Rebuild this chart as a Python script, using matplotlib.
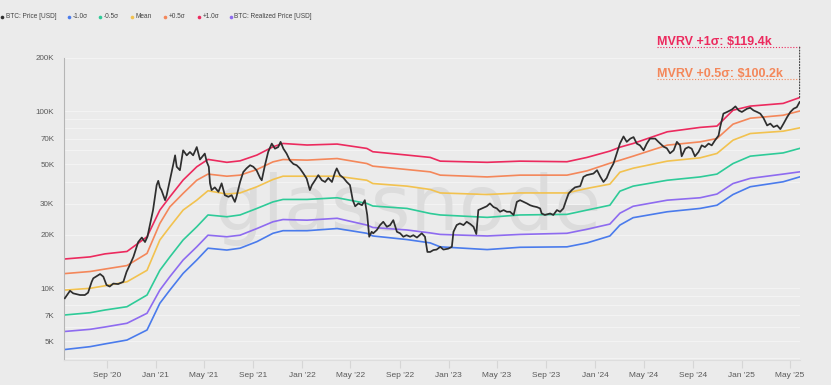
import matplotlib
matplotlib.use("Agg")
import matplotlib.pyplot as plt
import pandas as pd
from matplotlib.ticker import FixedLocator, LogLocator, NullFormatter
import matplotlib.dates as mdates

plt.rcParams['font.family'] = ['Liberation Sans', 'DejaVu Sans']

# ---------------- data ----------------
price_dates = [
    '2020-05-19', '2020-06-01', '2020-06-09', '2020-06-26', '2020-07-08', '2020-07-16', '2020-07-25', '2020-07-29',
    '2020-08-15', '2020-08-23', '2020-08-31', '2020-09-08', '2020-09-17', '2020-09-29', '2020-10-12', '2020-10-20',
    '2020-10-28', '2020-11-06', '2020-11-18', '2020-11-27', '2020-12-05', '2020-12-11', '2020-12-17', '2020-12-25',
    '2021-01-03', '2021-01-07', '2021-01-11', '2021-01-15', '2021-01-24', '2021-01-28', '2021-02-05', '2021-02-13',
    '2021-02-18', '2021-02-22', '2021-03-02', '2021-03-10', '2021-03-19', '2021-03-27', '2021-04-04', '2021-04-13',
    '2021-04-21', '2021-05-03', '2021-05-08', '2021-05-13', '2021-05-16', '2021-05-20', '2021-05-28', '2021-06-06',
    '2021-06-14', '2021-06-22', '2021-07-01', '2021-07-09', '2021-07-17', '2021-07-21', '2021-07-30', '2021-08-07',
    '2021-08-15', '2021-08-24', '2021-09-01', '2021-09-09', '2021-09-18', '2021-09-22', '2021-09-30', '2021-10-08',
    '2021-10-17', '2021-10-25', '2021-11-02', '2021-11-08', '2021-11-15', '2021-11-23', '2021-12-01', '2021-12-10',
    '2021-12-18', '2021-12-26', '2022-01-04', '2022-01-12', '2022-01-20', '2022-01-25', '2022-02-02', '2022-02-10',
    '2022-02-19', '2022-02-27', '2022-03-07', '2022-03-16', '2022-03-24', '2022-03-28', '2022-04-05', '2022-04-14',
    '2022-04-22', '2022-04-30', '2022-05-07', '2022-05-13', '2022-05-21', '2022-05-30', '2022-06-06', '2022-06-12',
    '2022-06-17', '2022-06-23', '2022-06-27', '2022-07-06', '2022-07-14', '2022-07-22', '2022-07-31', '2022-08-08',
    '2022-08-16', '2022-08-25', '2022-09-02', '2022-09-10', '2022-09-18', '2022-09-27', '2022-10-05', '2022-10-14',
    '2022-10-26', '2022-11-03', '2022-11-09', '2022-11-16', '2022-11-24', '2022-12-02', '2022-12-11', '2022-12-19',
    '2022-12-31', '2023-01-09', '2023-01-13', '2023-01-21', '2023-01-29', '2023-02-07', '2023-02-15', '2023-02-24',
    '2023-03-04', '2023-03-11', '2023-03-16', '2023-03-25', '2023-04-06', '2023-04-14', '2023-04-23', '2023-05-01',
    '2023-05-09', '2023-05-18', '2023-05-26', '2023-06-03', '2023-06-12', '2023-06-20', '2023-06-28', '2023-07-07',
    '2023-07-15', '2023-07-23', '2023-07-31', '2023-08-09', '2023-08-17', '2023-08-21', '2023-08-29', '2023-09-11',
    '2023-09-19', '2023-09-28', '2023-10-06', '2023-10-14', '2023-10-21', '2023-10-27', '2023-11-04', '2023-11-12',
    '2023-11-25', '2023-12-03', '2023-12-11', '2023-12-20', '2023-12-28', '2024-01-06', '2024-01-14', '2024-01-22',
    '2024-01-30', '2024-02-07', '2024-02-16', '2024-02-24', '2024-03-03', '2024-03-12', '2024-03-20', '2024-03-29',
    '2024-04-06', '2024-04-14', '2024-04-22', '2024-05-01', '2024-05-09', '2024-05-17', '2024-05-30', '2024-06-07',
    '2024-06-20', '2024-06-28', '2024-07-06', '2024-07-15', '2024-07-23', '2024-07-31', '2024-08-04', '2024-08-13',
    '2024-08-21', '2024-08-29', '2024-09-06', '2024-09-15', '2024-09-23', '2024-10-01', '2024-10-10', '2024-10-18',
    '2024-10-26', '2024-11-04', '2024-11-08', '2024-11-16', '2024-11-25', '2024-12-07', '2024-12-16', '2024-12-24',
    '2025-01-01', '2025-01-14', '2025-01-22', '2025-01-30', '2025-02-08', '2025-02-16', '2025-02-24', '2025-03-05',
    '2025-03-13', '2025-03-21', '2025-03-30', '2025-04-07', '2025-04-15', '2025-04-24', '2025-05-02', '2025-05-10',
    '2025-05-18', '2025-05-25',
]
btc_price = [
    8750, 9650, 9330, 9130, 9130, 9410, 10850, 11350,
    12000, 11600, 10400, 10200, 10600, 10530, 10850, 12350,
    13500, 15000, 18200, 19300, 18200, 19500, 22700, 27600,
    38200, 40400, 37100, 35800, 31400, 33500, 40700, 49500,
    56300, 48500, 46400, 60100, 56300, 58800, 56300, 62700,
    53300, 57600, 51700, 48500, 39100, 35800, 37100, 35000,
    39100, 33500, 32800, 33500, 30700, 32800, 39800, 45300,
    47500, 49500, 48500, 46400, 41900, 40700, 49500, 58800,
    65600, 61400, 62700, 67100, 61400, 57600, 52800, 50300,
    49500, 47500, 44400, 41600, 35800, 38200, 40700, 43500,
    40700, 39800, 41900, 39800, 45300, 47500, 43500, 41900,
    39800, 38200, 31400, 29000, 30100, 29400, 31400, 25900,
    19500, 20800, 20400, 21300, 22700, 23700, 22200, 22700,
    24200, 20800, 20400, 19500, 19900, 19500, 19900, 19300,
    20400, 19500, 16000, 16000, 16400, 16500, 17100, 16500,
    16700, 17100, 20800, 22700, 23200, 22700, 23700, 23000,
    22200, 20200, 27600, 28200, 29000, 30100, 28700, 28200,
    27000, 27600, 27000, 27000, 25900, 30700, 31400, 30700,
    30100, 29400, 29000, 28700, 28200, 26400, 25900, 26400,
    25900, 27600, 27000, 28200, 31400, 34200, 35800, 37100,
    37700, 42500, 43500, 44000, 44400, 46400, 42700, 39800,
    41900, 46400, 50600, 57700, 65600, 72000, 67100, 70000,
    71400, 65600, 64100, 60100, 65600, 70000, 70000, 67100,
    63000, 61700, 57800, 60100, 67100, 64100, 55600, 61400,
    62700, 61400, 55600, 58800, 64100, 62700, 65600, 64100,
    68400, 72900, 81400, 96900, 99000, 102200, 106500, 101100,
    99000, 103300, 104600, 101100, 99000, 96900, 91500, 83100,
    85100, 81400, 83100, 79200, 85100, 92700, 99000, 103300,
    105400, 112700,
]

band_dates = [
    '2020-05-19', '2020-07-21', '2020-08-27', '2020-10-21', '2020-12-10', '2021-01-11', '2021-02-05', '2021-03-10',
    '2021-04-13', '2021-05-11', '2021-06-27', '2021-07-30', '2021-09-10', '2021-10-20', '2021-11-14', '2022-01-13',
    '2022-03-29', '2022-06-11', '2022-06-26', '2022-09-19', '2022-11-16', '2022-12-11', '2023-04-07', '2023-06-28',
    '2023-10-23', '2023-12-12', '2024-02-07', '2024-03-03', '2024-04-05', '2024-06-29', '2024-09-19', '2024-10-31',
    '2024-12-10', '2025-01-22', '2025-04-14', '2025-05-25',
]
plus_1sd = [14600, 15000, 15600, 16100, 19500, 27600, 32800, 40800, 48500, 53400, 51400, 52400, 56500, 62900, 65700, 64400,
            65200, 61600, 59000, 56500, 54800, 52200, 51400, 52200, 51800, 54800, 59500, 62600, 65700, 76500, 81000, 82400,
            101300, 106900, 110700, 119400]
plus_05sd = [12070, 12400, 12800, 13400, 15700, 23200, 28800, 34300, 40700, 44100, 42900, 43500, 46800, 51700, 53300, 52900,
             54000, 50600, 48900, 46800, 45400, 43500, 42500, 43500, 43500, 46000, 50800, 52800, 55700, 64300, 67100, 70100,
             84500, 91300, 94900, 100200]
mean_band = [9740, 9960, 10300, 10850, 12600, 18700, 22200, 27600, 31400, 35500, 34000, 34500, 37400, 41100, 42900, 42900,
             42900, 40700, 39000, 37700, 36100, 34500, 33800, 34500, 34500, 36600, 38700, 45200, 47600, 52200, 54500, 57700,
             68600, 74800, 77100, 80500]
minus_05sd = [7040, 7250, 7510, 7840, 9130, 12600, 15000, 18700, 22200, 25900, 25300, 25900, 28200, 30700, 31700, 31700,
              32400, 30100, 29100, 28200, 26400, 25900, 25100, 25900, 26100, 27600, 29400, 35300, 37700, 40700, 42500, 44100,
              50600, 55700, 58100, 61600]
realized_price = [5680, 5840, 6020, 6320, 7200, 9740, 11600, 14400, 17100, 19900, 19500, 19900, 21700, 23700, 24400, 24200,
                  24800, 22700, 22000, 21300, 20500, 20100, 19700, 20100, 20400, 21500, 23000, 26500, 29000, 31400, 32400, 34000,
                  39000, 41700, 44100, 45400]
minus_1sd = [4490, 4660, 4830, 5080, 5790, 8200, 9740, 12100, 14400, 16800, 16400, 16800, 18300, 20400, 21100, 21100,
             21700, 20400, 19700, 18800, 18000, 17100, 16500, 17000, 17100, 18000, 19700, 22700, 25000, 27000, 28200, 29400,
             33800, 37400, 39900, 42500]

y_ticks = [5000, 7000, 10000, 20000, 30000, 50000, 70000, 100000, 200000]
y_tick_labels = ['5K', '7K', '10K', '20K', '30K', '50K', '70K', '100K', '200K']
x_ticks = ['2020-09-01', '2021-01-01', '2021-05-01', '2021-09-01', '2022-01-01', '2022-05-01', '2022-09-01',
           '2023-01-01', '2023-05-01', '2023-09-01', '2024-01-01', '2024-05-01', '2024-09-01', '2025-01-01', '2025-05-01']

legend_labels = ['BTC: Price [USD]', '-1.0σ', '-0.5σ', 'Mean', '+0.5σ', '+1.0σ', 'BTC: Realized Price [USD]']

# ---------------- style ----------------
BG = '#ebebeb'
C_PRICE = '#2e2e2e'
C_M1 = '#4a7bec'
C_M05 = '#2ecb98'
C_MEAN = '#f2c24f'
C_P05 = '#f4875a'
C_P1 = '#ec2a5e'
C_RP = '#8e6bf0'

W, H = 831, 385
fig = plt.figure(figsize=(W / 100, H / 100), dpi=100, facecolor=BG)
ax = fig.add_axes([64 / W, (H - 360) / H, 736 / W, 302 / H])
ax.set_facecolor(BG)

pd_price = pd.to_datetime(price_dates)
pd_band = pd.to_datetime(band_dates)

# watermark
ax.text(408 / W, (H - 230) / H, 'glassnode', transform=fig.transFigure, ha='center', va='baseline',
        fontsize=55, family='DejaVu Sans', color='#dcdcdc', zorder=0.6)

lw = 1.2
ax.plot(pd_band, minus_1sd, color=C_M1, lw=lw, zorder=2)
ax.plot(pd_band, realized_price, color=C_RP, lw=lw, zorder=2)
ax.plot(pd_band, minus_05sd, color=C_M05, lw=lw, zorder=2)
ax.plot(pd_band, mean_band, color=C_MEAN, lw=lw, zorder=2)
ax.plot(pd_band, plus_05sd, color=C_P05, lw=lw, zorder=2)
ax.plot(pd_band, plus_1sd, color=C_P1, lw=lw, zorder=2)
ax.plot(pd_price, btc_price, color=C_PRICE, lw=1.25, zorder=3)

ax.set_yscale('log')
ax.set_ylim(3917, 200000)
ax.set_xlim(pd.Timestamp('2020-05-17'), pd.Timestamp('2025-05-26'))

ax.yaxis.set_major_locator(FixedLocator(y_ticks))
ax.set_yticklabels(y_tick_labels)
ax.yaxis.set_minor_locator(LogLocator(base=10, subs=range(1, 10)))
ax.yaxis.set_minor_formatter(NullFormatter())
ax.tick_params(axis='y', which='both', length=0, pad=7, labelsize=5.8, labelcolor='#5a5a5a')
ax.grid(axis='y', which='both', color='#f3f3f3', lw=0.8, zorder=0.5)
ax.set_axisbelow(True)

ax.set_xticks(pd.to_datetime(x_ticks))
ax.xaxis.set_major_formatter(mdates.DateFormatter("%b '%y"))
ax.tick_params(axis='x', which='major', length=6, width=0.8, color='#d6d6d6', pad=2.5,
               labelsize=6, labelcolor='#5a5a5a')
ax.xaxis.set_minor_locator(FixedLocator([]))

for s in ['top', 'right']:
    ax.spines[s].set_visible(False)
ax.spines['left'].set_color('#b5b5b5')
ax.spines['left'].set_linewidth(0.8)
ax.spines['bottom'].set_color('#dddddd')
ax.spines['bottom'].set_linewidth(0.8)

# annotations
xfrac0 = (657 - 64) / 736
y_red = 1.036
y_org = 0.930
ax.plot([xfrac0, 1.0], [y_red, y_red], transform=ax.transAxes, clip_on=False, color=C_P1, lw=0.8,
        ls=(0, (1, 1.6)), zorder=4)
ax.plot([xfrac0, 1.0], [y_org, y_org], transform=ax.transAxes, clip_on=False, color=C_P05, lw=0.8,
        ls=(0, (1, 1.6)), zorder=4)
ax.annotate('', xy=(pd_band[-1], plus_1sd[-1]), xycoords='data',
            xytext=(pd_band[-1], y_red), textcoords=ax.get_xaxis_transform(),
            arrowprops=dict(arrowstyle='-', color='#444444', lw=0.8, ls=(0, (1, 1.6)),
                            shrinkA=0, shrinkB=0), annotation_clip=False, zorder=4)
ax.text(xfrac0, y_red + 0.007, f"MVRV +1σ: ${plus_1sd[-1] / 1000:.1f}k", transform=ax.transAxes,
        ha='left', va='baseline', fontsize=9, fontweight='bold', color=C_P1, clip_on=False)
ax.text(xfrac0, y_org + 0.007, f"MVRV +0.5σ: ${plus_05sd[-1] / 1000:.1f}k", transform=ax.transAxes,
        ha='left', va='baseline', fontsize=9, fontweight='bold', color=C_P05, clip_on=False)

# legend (top strip)
leg_colors = [C_PRICE, C_M1, C_M05, C_MEAN, C_P05, C_P1, C_RP]
leg_dot_x = [1.5, 69, 99.5, 132, 164.5, 198.5, 230.5]
ly = 1 - 17 / H
for lab, col, dx in zip(legend_labels, leg_colors, leg_dot_x):
    fig.lines.append(matplotlib.lines.Line2D([dx / W], [ly], marker='o', markersize=2.6, color=col,
                                             markeredgewidth=0, transform=fig.transFigure))
    fig.text((dx + 4) / W, ly, lab, ha='left', va='center', fontsize=4.7, color='#444444')

fig.savefig('out.png', dpi=100, facecolor=BG)
